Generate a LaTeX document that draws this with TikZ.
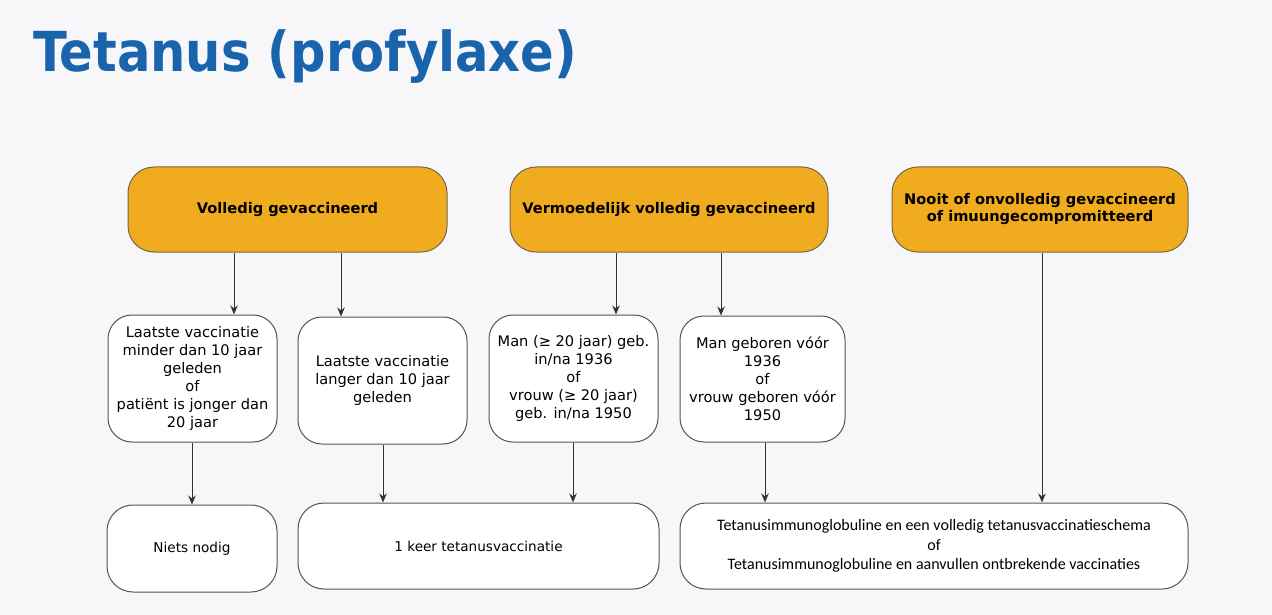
\documentclass[tikz,border=0pt]{standalone}
\usepackage{fontspec}
\setmainfont{DejaVu Sans}
\newfontfamily\titlefont{DejaVu Sans Condensed}
\newfontfamily\calfont{Carlito}
\usetikzlibrary{arrows.meta}
\definecolor{bgc}{HTML}{F7F7F9}
\definecolor{orangec}{HTML}{F0AB1E}
\definecolor{titleblue}{HTML}{1A64AE}
\definecolor{linec}{HTML}{555555}
\tikzset{
  topbox/.style={draw=linec!80!orangec, line width=1pt, fill=orangec, rounded corners=26pt, inner sep=0pt, align=center, font=\bfseries\fontsize{14.6}{17}\selectfont},
  midbox/.style={draw=linec, line width=1pt, fill=white, rounded corners=24pt, inner sep=0pt, align=center, font=\fontsize{14.6}{18}\selectfont},
  botbox/.style={draw=linec, line width=1pt, fill=white, rounded corners=26pt, inner sep=0pt, align=center, font=\fontsize{13.6}{18}\selectfont},
  arr/.style={draw=black!80, line width=1pt, -{Stealth[length=9pt,width=7.5pt]}}
}
\begin{document}
\begin{tikzpicture}[x=1pt,y=-1pt]
\fill[bgc] (0,0) rectangle (1272,615);
\useasboundingbox (0,0) rectangle (1272,615);
\node[anchor=base west, inner sep=0pt, text=titleblue] (title) at (33,72) {\resizebox{544pt}{!}{\titlefont\bfseries\fontsize{55}{60}\selectfont Tetanus (profylaxe)}};

\node[topbox, minimum width=319pt, minimum height=85pt] (A) at (287.5,209.5) {Volledig gevaccineerd};
\node[topbox, minimum width=318pt, minimum height=85pt] (B) at (669,209.5) {Vermoedelijk volledig gevaccineerd};
\node[topbox, minimum width=296pt, minimum height=85pt] (C) at (1040,209.5) {Nooit of onvolledig gevaccineerd\\of imuungecompromitteerd};

\node[midbox, minimum width=169pt, minimum height=127pt] (M1) at (192.5,378.5) {Laatste vaccinatie\\minder dan 10 jaar\\geleden\\of\\patiënt is jonger dan\\20 jaar};
\node[midbox, minimum width=169pt, minimum height=127pt] (M2) at (382.5,380.5) {Laatste vaccinatie\\langer dan 10 jaar\\geleden};
\node[midbox, minimum width=169pt, minimum height=127pt] (M3) at (573.5,378.5) {Man (≥ 20 jaar) geb.\\in/na 1936\\of\\vrouw (≥ 20 jaar)\\geb. in/na 1950};
\node[midbox, minimum width=165pt, minimum height=126pt] (M4) at (762.5,379) {Man geboren vóór\\1936\\of\\vrouw geboren vóór\\1950};

\node[botbox, minimum width=170pt, minimum height=87pt] (B1) at (192,548.5) {Niets nodig};
\node[botbox, minimum width=361pt, minimum height=86pt] (B2) at (478.5,546) {1 keer tetanusvaccinatie};
\node[botbox, minimum width=508pt, minimum height=86pt, font=\calfont\fontsize{16}{19.5}\selectfont] (B3) at (934,546) {Tetanusimmunoglobuline en een volledig tetanusvaccinatieschema\\of\\Tetanusimmunoglobuline en aanvullen ontbrekende vaccinaties};

\coordinate (xa1) at (234,0);
\coordinate (xa2) at (341,0);
\coordinate (xb1) at (616,0);
\coordinate (xb2) at (721,0);
\coordinate (xc) at (1042,0);
\coordinate (xm1) at (192,0);
\coordinate (xm2) at (383,0);
\coordinate (xm3) at (573,0);
\coordinate (xm4) at (765,0);

\draw[arr] (A.south -| xa1) -- (M1.north -| xa1);
\draw[arr] (A.south -| xa2) -- (M2.north -| xa2);
\draw[arr] (B.south -| xb1) -- (M3.north -| xb1);
\draw[arr] (B.south -| xb2) -- (M4.north -| xb2);
\draw[arr] (C.south -| xc) -- (B3.north -| xc);
\draw[arr] (M1.south -| xm1) -- (B1.north -| xm1);
\draw[arr] (M2.south -| xm2) -- (B2.north -| xm2);
\draw[arr] (M3.south -| xm3) -- (B2.north -| xm3);
\draw[arr] (M4.south -| xm4) -- (B3.north -| xm4);
\end{tikzpicture}
\end{document}
